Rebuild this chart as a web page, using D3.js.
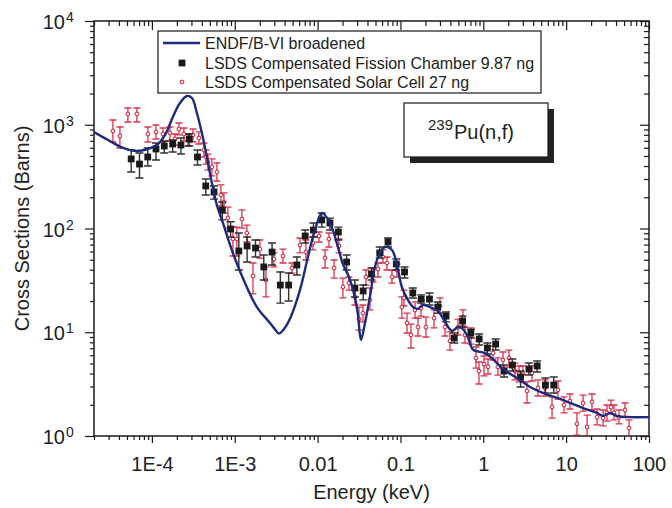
<!DOCTYPE html>
<html>
<head>
<meta charset="utf-8">
<script src="https://cdn.jsdelivr.net/npm/d3@7"></script>
<style>
  body { margin: 0; background: #fff; }
  text { font-family: "Liberation Sans", Arial, Helvetica, sans-serif; fill: #222; }
</style>
</head>
<body>
<div id="chart"></div>
<script>
// ENDF/B-VI broadened curve (energy keV, barns)
const endfE = [2.0e-5, 3.11e-5, 4.47e-5, 6.59e-5, 8.95e-5, 1.15e-4, 1.44e-4, 1.79e-4, 2.18e-4, 2.65e-4,
  3.04e-4, 3.49e-4, 4.01e-4, 4.61e-4, 5.30e-4, 6.09e-4, 7.20e-4, 9.50e-4, 1.33e-3, 1.85e-3,
  2.66e-3, 3.05e-3, 3.41e-3, 3.92e-3, 4.64e-3, 6.12e-3, 7.64e-3, 9.29e-3, 1.13e-2, 1.41e-2, 1.76e-2, 2.02e-2,
  2.39e-2, 2.82e-2, 3.07e-2, 3.34e-2, 3.73e-2, 4.28e-2, 4.92e-2, 5.66e-2, 6.50e-2, 7.90e-2,
  9.08e-2, 0.104, 0.123, 0.142, 0.163, 0.187, 0.227, 0.284, 0.345, 0.419,
  0.495, 0.553, 0.635, 0.750, 0.88, 1.05, 1.31, 1.73, 2.55, 3.66,
  5.25, 9.16, 16.0, 23.6, 27.9, 33.8, 41.1, 59.0, 100];
const endfS = [851, 697, 597, 558, 584, 638, 797, 1188, 1620, 1893,
  1810, 1298, 833, 489, 274, 168, 113, 58.1, 29.8, 17.5,
  12.3, 10.7, 9.7, 10.7, 13.5, 25.5, 53.1, 96.7, 141, 113, 66.3, 45.5,
  34.1, 21.9, 14.7, 8.42, 12.3, 21.9, 42.6, 58.1, 66.3, 62.1,
  44.5, 27.3, 20.5, 17.5, 16.8, 18.3, 17.5, 16.0, 12.6, 10.3,
  11.2, 10.9, 9.4, 6.8, 6.5, 6.3, 5.5, 4.42, 3.62, 2.97,
  2.60, 2.22, 1.86, 1.67, 1.56, 1.67, 1.56, 1.52, 1.52];

// LSDS compensated fission chamber 9.87 ng
const fcE = [5.62e-5, 7.08e-5, 8.91e-5, 1.12e-4, 1.41e-4, 1.78e-4, 2.24e-4, 2.82e-4, 3.55e-4, 4.47e-4,
  5.62e-4, 7.08e-4, 8.91e-4, 1.12e-3, 1.41e-3, 1.78e-3, 2.24e-3, 2.82e-3, 3.55e-3, 4.47e-3,
  5.62e-3, 7.08e-3, 8.91e-3, 1.12e-2, 1.41e-2, 1.78e-2, 2.24e-2, 2.82e-2, 3.55e-2, 4.47e-2,
  5.62e-2, 7.08e-2, 8.91e-2, 0.112, 0.141, 0.178, 0.224, 0.282, 0.355, 0.447,
  0.562, 0.708, 0.891, 1.12, 1.41, 1.78, 2.24, 2.82, 3.55, 4.47,
  5.62, 7.08];
const fcS = [468, 418, 489, 584, 624, 652, 638, 729, 489, 257,
  225, 151, 98.9, 60.7, 67.8, 64.9, 42.6, 59.3, 28.5, 28.5,
  44.5, 84.7, 96.7, 121, 113, 92.5, 47.5, 26.7, 25.0, 36.4,
  58.1, 74.1, 45.5, 38.1, 23.9, 20.9, 20.9, 17.5, 14.3, 8.80,
  12.8, 9.83, 8.61, 7.05, 7.70, 4.23, 4.83, 3.70, 4.42, 4.73,
  3.10, 3.10];
const fcHi = [571, 534, 597, 667, 697, 713, 745, 814, 571, 300,
  257, 180, 116, 90.5, 82.8, 77.5, 55.5, 72.5, 38.1, 37.2,
  53.1, 96.7, 113, 141, 126, 103, 55.5, 31.9, 28.5, 41.6,
  66.3, 81.0, 50.8, 42.6, 26.7, 22.9, 23.9, 19.6, 15.7, 9.83,
  14.3, 10.7, 9.62, 7.88, 8.61, 4.83, 5.52, 4.23, 5.05, 5.28,
  3.62, 3.70];
const fcLo = [350, 307, 400, 457, 534, 546, 522, 624, 409, 210,
  192, 121, 82.8, 39.8, 47.5, 53.1, 31.9, 44.5, 19.1, 20.0,
  35.6, 72.5, 82.8, 103, 96.7, 77.5, 39.8, 21.9, 20.5, 31.9,
  51.9, 66.3, 39.8, 33.3, 21.4, 19.1, 18.3, 15.3, 12.6, 7.88,
  11.2, 8.80, 7.54, 6.17, 6.74, 3.70, 4.23, 2.97, 3.87, 4.14,
  2.60, 2.60];

// LSDS compensated solar cell 27 ng
const scE = [3.38e-5, 4.11e-5, 5.13e-5, 6.59e-5, 8.95e-5, 1.12e-4, 1.36e-4, 1.65e-4, 1.90e-4, 2.12e-4,
  2.43e-4, 2.72e-4, 3.13e-4, 3.69e-4, 4.24e-4, 4.49e-4, 4.75e-4, 5.30e-4, 6.09e-4, 6.81e-4,
  7.40e-4, 8.27e-4, 9.50e-4, 1.06e-3, 1.22e-3, 1.40e-3, 1.66e-3, 2.01e-3, 2.38e-3, 2.97e-3,
  3.82e-3, 4.90e-3, 6.12e-3, 7.23e-3, 8.78e-3, 1.04e-2, 1.23e-2, 1.37e-2, 1.58e-2, 1.81e-2,
  2.02e-2, 2.39e-2, 2.82e-2, 3.16e-2, 3.53e-2, 3.83e-2, 4.28e-2, 4.66e-2, 5.35e-2, 6.15e-2,
  6.87e-2, 7.90e-2, 9.08e-2, 0.104, 0.110, 0.120, 0.134, 0.150, 0.163, 0.177,
  0.203, 0.254, 0.300, 0.345, 0.396, 0.495, 0.568, 0.601, 0.710, 0.816,
  0.887, 1.02, 1.14, 1.31, 1.50, 1.73, 2.04, 2.41, 2.70, 3.01,
  3.37, 3.87, 4.57, 5.56, 6.75, 7.97, 9.42, 11.1, 13.5, 16.0,
  17.9, 20.5, 23.6, 27.9, 31.1, 34.8, 37.8, 43.5, 51.3, 57.4];
const scS = [871, 779, 1270, 1270, 814, 852, 814, 833, 729, 910,
  814, 713, 797, 745, 571, 489, 438, 392, 350, 210,
  180, 126, 79.2, 79.2, 123, 90.5, 34.8, 63.4, 31.9, 50.8,
  54.3, 41.6, 69.3, 59.3, 72.5, 84.7, 51.9, 79.2, 41.6, 67.8,
  27.3, 29.8, 21.9, 13.4, 15.3, 34.1, 20.5, 35.6, 40.7, 53.1,
  46.5, 34.1, 39.8, 17.5, 21.4, 12.3, 9.41, 16.4, 11.2, 17.1,
  11.2, 13.7, 17.9, 11.2, 8.24, 11.2, 14.0, 9.41, 9.20, 5.65,
  4.23, 4.94, 4.63, 6.31, 4.63, 5.40, 5.65, 4.23, 3.96, 3.96,
  2.71, 4.05, 2.90, 2.90, 1.90, 2.78, 1.99, 2.17, 1.31, 2.08,
  1.22, 2.13, 1.52, 1.49, 1.67, 1.90, 1.67, 1.52, 1.78, 1.19];
const scHi = [1111, 951, 1450, 1450, 951, 994, 930, 951, 814, 1040,
  930, 814, 910, 852, 667, 571, 522, 468, 428, 263,
  220, 161, 103, 103, 151, 108, 46.5, 77.5, 42.6, 58.1,
  63.4, 46.5, 81.0, 77.5, 82.8, 92.5, 62.1, 90.5, 49.7, 79.2,
  33.3, 34.1, 25.5, 17.5, 18.3, 39.8, 26.7, 41.6, 46.5, 62.1,
  53.1, 39.8, 45.5, 21.9, 25.5, 15.3, 12.0, 19.6, 13.7, 20.5,
  14.0, 16.4, 21.4, 13.7, 10.1, 13.4, 16.4, 11.2, 11.0, 7.21,
  5.17, 5.90, 5.52, 7.37, 5.65, 6.45, 6.74, 5.05, 4.73, 4.73,
  3.32, 4.73, 3.47, 3.47, 2.38, 3.39, 2.38, 2.54, 1.67, 2.48,
  1.59, 2.54, 1.82, 1.78, 1.99, 2.22, 1.99, 1.78, 2.08, 1.43];
const scLo = [682, 597, 1063, 1063, 682, 729, 682, 697, 638, 797,
  697, 624, 682, 652, 489, 418, 366, 321, 287, 165,
  141, 101, 54.3, 54.3, 101, 74.1, 23.4, 51.9, 21.9, 42.6,
  46.5, 37.2, 58.1, 49.7, 62.1, 74.1, 41.6, 66.3, 33.3, 58.1,
  21.4, 25.5, 18.3, 10.5, 12.6, 28.5, 16.4, 30.5, 34.1, 46.5,
  39.8, 29.8, 34.1, 13.7, 17.9, 9.83, 7.05, 13.7, 9.20, 14.3,
  9.00, 11.0, 15.3, 9.20, 6.74, 9.41, 11.5, 7.88, 7.70, 4.52,
  3.17, 3.79, 3.96, 5.40, 3.87, 4.52, 4.63, 3.47, 3.32, 3.32,
  2.08, 3.39, 2.43, 2.43, 1.49, 2.27, 1.67, 1.82, 1.02, 1.74,
  0.957, 1.78, 1.28, 1.25, 1.39, 1.63, 1.43, 1.31, 1.52, 0.98];

const xTickVals = [1e-4, 1e-3, 1e-2, 1e-1, 1, 10, 100];
const xTickLabels = ["1E-4", "1E-3", "0.01", "0.1", "1", "10", "100"];
const yTickVals = [1, 10, 100, 1000, 10000];
const yTickExp = ["0", "1", "2", "3", "4"];

const legendLabels = ["ENDF/B-VI broadened",
  "LSDS Compensated Fission Chamber 9.87 ng",
  "LSDS Compensated Solar Cell 27 ng"];

const width = 672, height = 508;
const margin = {top: 21, right: 23, bottom: 72, left: 94};
const plot_w = width - margin.left - margin.right;
const plot_h = height - margin.top - margin.bottom;

const navy = "#1d2a7e", red = "#d3112e", dark = "#1a1a1a";

let svg = d3.select("#chart").append("svg")
    .attr("width", width)
    .attr("height", height);

let x = d3.scaleLog().domain([2e-5, 100]).range([0, plot_w]);
let y = d3.scaleLog().domain([1, 1e4]).range([plot_h, 0]);

let g = svg.append("g")
    .attr("transform", `translate(${margin.left},${margin.top})`);

g.append("clipPath").attr("id", "clip")
  .append("rect").attr("width", plot_w).attr("height", plot_h);

// minor tick positions (2..9 of each decade)
let minorX = [], minorY = [];
for (let d = -5; d <= 1; d++) for (let k = 2; k <= 9; k++) {
  let v = k * Math.pow(10, d);
  if (v >= 2e-5 && v < 100) minorX.push(v);
}
for (let d = 0; d <= 3; d++) for (let k = 2; k <= 9; k++) minorY.push(k * Math.pow(10, d));

function addAxis(axis, tr) {
  let a = g.append("g").attr("transform", tr).call(axis);
  a.select(".domain").remove();
  a.selectAll("line").attr("stroke", dark).attr("stroke-width", 1.2);
  return a;
}

// bottom (outward)
addAxis(d3.axisBottom(x).tickValues(minorX).tickSize(4).tickFormat(""), `translate(0,${plot_h})`);
let bx = addAxis(d3.axisBottom(x).tickValues(xTickVals).tickSize(7).tickPadding(14)
    .tickFormat((d, i) => xTickLabels[i]), `translate(0,${plot_h})`);
bx.selectAll("text").style("font-size", "20px").attr("fill", "#222");
// top (inward)
addAxis(d3.axisBottom(x).tickValues(minorX).tickSize(5).tickFormat(""), "translate(0,0)");
addAxis(d3.axisBottom(x).tickValues(xTickVals).tickSize(9).tickFormat(""), "translate(0,0)");
// left (outward)
addAxis(d3.axisLeft(y).tickValues(minorY).tickSize(4).tickFormat(""), "translate(0,0)");
addAxis(d3.axisLeft(y).tickValues(yTickVals).tickSize(9).tickFormat(""), "translate(0,0)");
// right (inward)
addAxis(d3.axisLeft(y).tickValues(minorY).tickSize(5).tickFormat(""), `translate(${plot_w},0)`);
addAxis(d3.axisLeft(y).tickValues(yTickVals).tickSize(9).tickFormat(""), `translate(${plot_w},0)`);

// y tick labels 10^n
yTickVals.forEach((v, i) => {
  g.append("text")
    .attr("x", -29).attr("y", y(v) + 8)
    .style("text-anchor", "end").style("font-size", "20px")
    .text("10");
  g.append("text")
    .attr("x", -28).attr("y", y(v) + 1)
    .style("text-anchor", "start").style("font-size", "14px")
    .text(yTickExp[i]);
});

// frame
g.append("rect")
  .attr("width", plot_w).attr("height", plot_h)
  .attr("fill", "none").attr("stroke", dark).attr("stroke-width", 1.5);

let data = g.append("g").attr("clip-path", "url(#clip)");

// solar cell points
let sc = scE.map((e, i) => ({e: e, s: scS[i], hi: scHi[i], lo: scLo[i]}));
let scG = data.append("g");
scG.selectAll(".bar").data(sc).enter().append("path")
  .attr("d", d => {
    let cx = x(d.e), t = y(d.hi), b = y(d.lo);
    return `M${cx},${t}V${b}M${cx - 3.5},${t}H${cx + 3.5}M${cx - 3.5},${b}H${cx + 3.5}`;
  })
  .attr("stroke", red).attr("stroke-width", 1.3).attr("fill", "none").attr("opacity", 0.85);
scG.selectAll("circle").data(sc).enter().append("circle")
  .attr("cx", d => x(d.e)).attr("cy", d => y(d.s)).attr("r", 1.9)
  .attr("fill", "#fff").attr("stroke", red).attr("stroke-width", 1);

// fission chamber points
let fc = fcE.map((e, i) => ({e: e, s: fcS[i], hi: fcHi[i], lo: fcLo[i]}));
let fcG = data.append("g");
fcG.selectAll(".bar").data(fc).enter().append("path")
  .attr("d", d => {
    let cx = x(d.e), t = y(d.hi), b = y(d.lo);
    return `M${cx},${t}V${b}M${cx - 4},${t}H${cx + 4}M${cx - 4},${b}H${cx + 4}`;
  })
  .attr("stroke", dark).attr("stroke-width", 1.4).attr("fill", "none").attr("opacity", 0.9);
fcG.selectAll("rect").data(fc).enter().append("rect")
  .attr("x", d => x(d.e) - 3.4).attr("y", d => y(d.s) - 3.4)
  .attr("width", 6.8).attr("height", 6.8)
  .attr("fill", dark);

// ENDF curve
let line = d3.line()
    .x((d, i) => x(endfE[i]))
    .y(d => y(d))
    .curve(d3.curveCatmullRom);
data.append("path")
  .attr("d", line(endfS))
  .attr("fill", "none").attr("stroke", navy).attr("stroke-width", 2.4);

// legend
let lg = svg.append("g");
lg.append("rect").attr("x", 158).attr("y", 31).attr("width", 383).attr("height", 62)
  .attr("fill", "#fff").attr("stroke", dark).attr("stroke-width", 1.2);
lg.append("line").attr("x1", 163).attr("x2", 200).attr("y1", 43).attr("y2", 43)
  .attr("stroke", navy).attr("stroke-width", 2.4);
lg.append("rect").attr("x", 178.6).attr("y", 59.6).attr("width", 6.8).attr("height", 6.8).attr("fill", dark);
lg.append("circle").attr("cx", 182).attr("cy", 82).attr("r", 1.9)
  .attr("fill", "#fff").attr("stroke", red).attr("stroke-width", 1);
legendLabels.forEach((t, i) => {
  lg.append("text").attr("x", 205).attr("y", [48.5, 68.5, 88][i])
    .style("font-size", "16px").text(t);
});

// isotope box
svg.append("rect").attr("x", 410).attr("y", 109).attr("width", 144).attr("height", 54).attr("fill", "#222");
svg.append("rect").attr("x", 404).attr("y", 103).attr("width", 144).attr("height", 54)
  .attr("fill", "#fff").attr("stroke", dark).attr("stroke-width", 1.2);
svg.append("text").attr("x", 428).attr("y", 130).style("font-size", "15px").text("239");
svg.append("text").attr("x", 454).attr("y", 139).style("font-size", "20px").text("Pu(n,f)");

// axis titles
svg.append("text")
  .attr("transform", `translate(${margin.left + plot_w / 2},${499})`)
  .style("text-anchor", "middle").style("font-size", "20px")
  .text("Energy (keV)");
svg.append("text")
  .attr("transform", `translate(29,${margin.top + plot_h / 2}) rotate(-90)`)
  .style("text-anchor", "middle").style("font-size", "20px")
  .text("Cross Sections (Barns)");
</script>
</body>
</html>
